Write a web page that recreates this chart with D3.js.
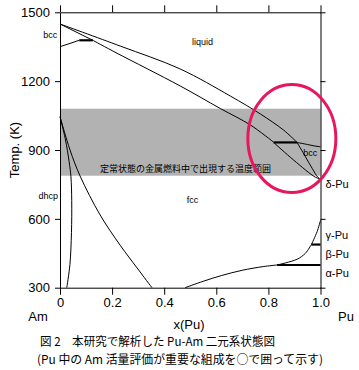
<!DOCTYPE html>
<html><head><meta charset="utf-8">
<script src="https://cdn.jsdelivr.net/npm/d3@7"></script>
<style>
body{margin:0;background:#fff;}
svg{display:block;}
</style></head>
<body>
<svg id="c" width="359" height="370"></svg>
<script>
// ---- data (x = mole fraction Pu, T in K) ----
const xTicks = [0, 0.2, 0.4, 0.6, 0.8, 1.0];
const yTicks = [300, 600, 900, 1200, 1500];
const band = [788, 1080];
const liquidus = [[0,1449],[0.231,1353],[0.4615,1253],[0.654,1135],[0.769,1057],[0.858,987],[0.91,933]];
const liquidusPu = [[0.91,933],[0.95,924],[0.975,918],[1.0,914]];
const bccSolidusAm = [[0,1449],[0.126,1378]];
const fccSolidus = [[0.126,1378],[0.215,1324],[0.4615,1179],[0.615,1081],[0.731,1009],[0.82,934]];
const bccFccAm = [[0,1350],[0.074,1378]];
const periAm = [[0.074,1378],[0.126,1378]];
const periPu = [[0.82,933],[0.91,933]];
const fccBccPuA = [[0.82,933],[0.897,856],[0.981,781],[1.0,774]];
const fccBccPuB = [[0.91,933],[0.942,871],[0.968,820],[0.99,781],[1.0,774]];
const dhcpLeft = [[0,1045],[0.02,950],[0.035,850],[0.042,783],[0.045,680],[0.044,540],[0.038,400],[0.026,300]];
const dhcpRight = [[0,1045],[0.0385,900],[0.077,787],[0.154,617],[0.231,485],[0.296,386],[0.353,300]];
const alphaCurve = [[0.48,300],[0.55,328],[0.62,353],[0.7,376],[0.78,392],[0.8335,399]];
const alphaBeta = [[0.8335,399],[1.0,399]];
const betaCurve = [[0.8335,399],[0.91,424],[0.942,450],[0.965,488]];
const betaGamma = [[0.965,488],[1.0,488]];
const gammaCurve = [[0.965,488],[0.987,544],[1.0,593]];
const phaseLabels = [
  {t:"liquid", x:0.507, T:1359},
  {t:"bcc", x:-0.064, T:1387},
  {t:"dhcp", x:-0.083, T:686},
  {t:"fcc", x:0.487, T:669},
  {t:"bcc", x:0.934, T:874}
];
const puLabels = [
  {t:"δ-Pu", T:734}, {t:"γ-Pu", T:512}, {t:"β-Pu", T:429}, {t:"α-Pu", T:346}
];
const bandText = "定常状態の金属燃料中で出現する温度範囲";
const caption1 = "図 2　本研究で解析した Pu-Am 二元系状態図";
const caption2 = "(Pu 中の Am 活量評価が重要な組成を○で囲って示す)";

const svg = d3.select("#c");
const x = d3.scaleLinear().domain([0,1]).range([60,320.5]);
const y = d3.scaleLinear().domain([300,1500]).range([287.7,12.3]);
const latin = "'Liberation Sans', Arial, Helvetica, sans-serif";
const cjk = "'Noto Sans CJK JP', 'Noto Sans CJK SC', sans-serif";

// band
svg.append("rect").attr("x", x(0)).attr("width", x(1)-x(0))
  .attr("y", y(band[1])).attr("height", y(band[0])-y(band[1]))
  .attr("fill", "#b2b2b2");
svg.append("text").attr("x", 100).attr("y", y(band[0])-4)
  .attr("font-family", cjk).attr("font-size", 9).attr("fill","#000")
  .attr("textLength", 171).attr("lengthAdjust","spacingAndGlyphs")
  .text(bandText);

// curves
const line = d3.line().x(d=>x(d[0])).y(d=>y(d[1])).curve(d3.curveCatmullRom.alpha(0.5));
const thin = [liquidus, liquidusPu, bccSolidusAm, fccSolidus, bccFccAm, fccBccPuA, fccBccPuB,
  dhcpLeft, dhcpRight, alphaCurve, betaCurve, gammaCurve];
svg.append("g").selectAll("path").data(thin).join("path")
  .attr("d", line).attr("fill","none").attr("stroke","#000").attr("stroke-width",1);
const thick = [periAm, periPu, alphaBeta, betaGamma];
svg.append("g").selectAll("path").data(thick).join("path")
  .attr("d", d3.line().x(d=>x(d[0])).y(d=>y(d[1])))
  .attr("fill","none").attr("stroke","#000").attr("stroke-width",2.2);

// axes
function style(g){
  g.selectAll(".domain").attr("stroke","#000").attr("stroke-width",1);
  g.selectAll(".tick line").attr("stroke","#000").attr("stroke-width",1);
  g.selectAll("text").attr("font-family", latin).attr("font-size", 13).attr("fill","#000");
}
svg.append("g").attr("transform",`translate(0,${y(300)})`)
  .call(d3.axisBottom(x).tickValues(xTicks).tickSize(7).tickSizeOuter(0).tickPadding(3)
    .tickFormat(d=> d===0 ? "0" : d.toFixed(1))).call(style);
svg.append("g").attr("transform",`translate(0,${y(1500)})`)
  .call(d3.axisTop(x).tickValues(xTicks).tickSize(7).tickSizeOuter(0).tickFormat("")).call(style);
svg.append("g").attr("transform",`translate(${x(0)},0)`)
  .call(d3.axisLeft(y).tickValues(yTicks).tickSize(5).tickSizeOuter(0).tickPadding(5)
    .tickFormat(d3.format("d"))).call(style);
svg.append("g").attr("transform",`translate(${x(1)},0)`)
  .call(d3.axisRight(y).tickValues(yTicks).tickSize(5).tickSizeOuter(0).tickFormat("")).call(style);

// axis titles
svg.append("text").attr("transform",`translate(19,${(y(300)+y(1500))/2}) rotate(-90)`)
  .attr("text-anchor","middle").attr("font-family",latin).attr("font-size",13).text("Temp. (K)");
svg.append("text").attr("x",189).attr("y",329).attr("text-anchor","middle")
  .attr("font-family",latin).attr("font-size",13).text("x(Pu)");
svg.append("text").attr("x",38).attr("y",321).attr("text-anchor","middle")
  .attr("font-family",latin).attr("font-size",13).text("Am");
svg.append("text").attr("x",346).attr("y",321).attr("text-anchor","middle")
  .attr("font-family",latin).attr("font-size",13).text("Pu");

// phase labels
svg.append("g").selectAll("text").data(phaseLabels).join("text")
  .attr("x", d=>x(d.x)).attr("y", d=>y(d.T))
  .attr("font-family", latin).attr("font-size", 9).text(d=>d.t);
svg.append("g").selectAll("text").data(puLabels).join("text")
  .attr("x", x(1)+5).attr("y", d=>y(d.T))
  .attr("font-family", latin).attr("font-size", 11).text(d=>d.t);

// red ellipse
svg.append("ellipse").attr("cx", x(0.89)).attr("cy", y(950)).attr("rx",44).attr("ry",54)
  .attr("fill","none").attr("stroke","#e8175d").attr("stroke-width",3);

// caption
svg.append("text").attr("x",40).attr("y",346).attr("font-family",cjk).attr("font-size",12)
  .attr("textLength",235).attr("lengthAdjust","spacingAndGlyphs").text(caption1);
svg.append("text").attr("x",37).attr("y",364).attr("font-family",cjk).attr("font-size",12)
  .attr("textLength",286).attr("lengthAdjust","spacingAndGlyphs").text(caption2);
</script>
</body></html>
